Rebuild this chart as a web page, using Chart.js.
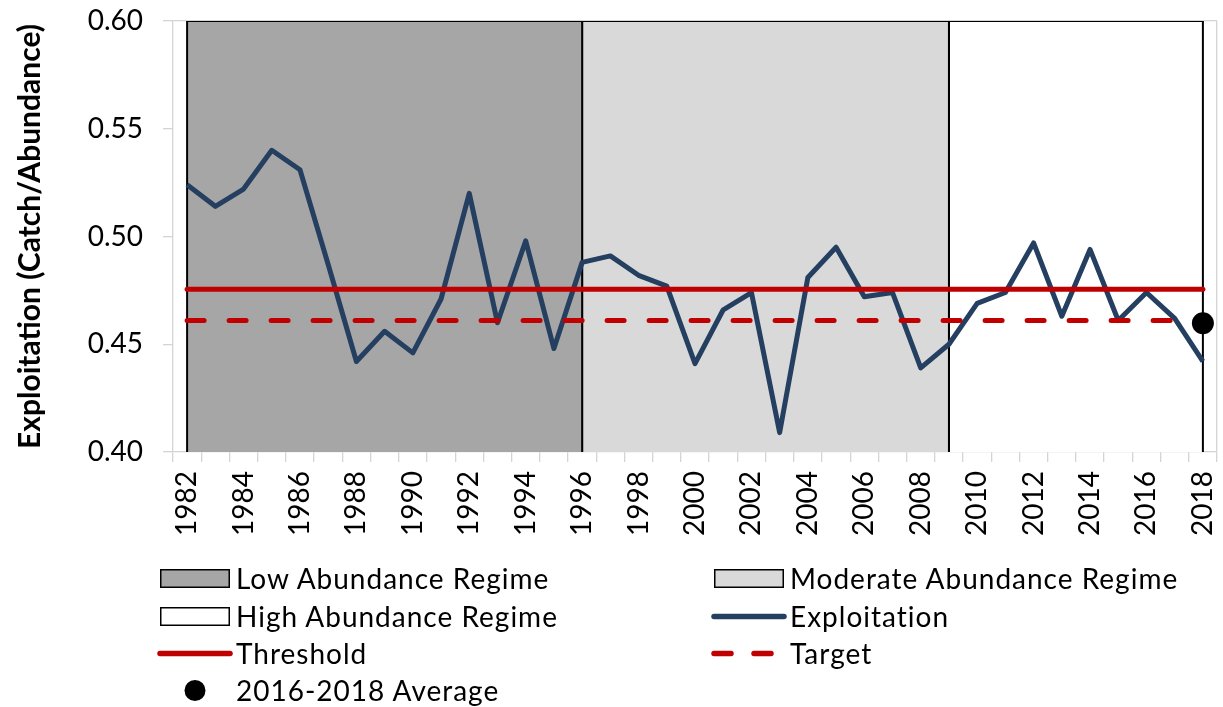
<!DOCTYPE html>
<html>
<head>
<meta charset="utf-8">
<script src="https://cdn.jsdelivr.net/npm/chart.js@4.4.1/dist/chart.umd.min.js"></script>
<style>
  body { margin: 0; background: #ffffff; }
  #wrap { position: relative; width: 1223px; height: 707px; }
  #legend { position: absolute; left: 0; top: 0; width: 1223px; height: 707px; pointer-events: none; }
  .item { position: absolute; height: 30px; display: flex; align-items: center; font-family: Lato, sans-serif; font-size: 28px; letter-spacing: 1px; color: #000; white-space: nowrap; }
  .item svg { margin-right: 3px; flex: none; }
</style>
</head>
<body>
<div id="wrap">
  <canvas id="chart" width="1223" height="707"></canvas>
  <div id="legend"></div>
</div>
<script>
// Years on the category axis
const years = ['1982','1983','1984','1985','1986','1987','1988','1989','1990','1991',
  '1992','1993','1994','1995','1996','1997','1998','1999','2000','2001','2002','2003',
  '2004','2005','2006','2007','2008','2009','2010','2011','2012','2013','2014','2015',
  '2016','2017','2018'];

// Exploitation rate (catch / abundance)
const exploitation = [0.524, 0.514, 0.522, 0.540, 0.531, 0.487, 0.442, 0.456, 0.446, 0.471,
  0.520, 0.460, 0.498, 0.448, 0.488, 0.491, 0.482, 0.477, 0.441, 0.466, 0.474, 0.409,
  0.481, 0.495, 0.472, 0.474, 0.439, 0.450, 0.469, 0.474, 0.497, 0.463, 0.494, 0.461,
  0.474, 0.462, 0.442];

// Reference points
const thresholdValue = 0.4755;
const targetValue = 0.461;
const averageYear = '2018';
const averageValue = 0.4597;

// Abundance regimes (start / end year)
const regimeNames = ['Low Abundance Regime', 'Moderate Abundance Regime', 'High Abundance Regime'];
const regimeStart = ['1982', '1996', '2009'];
const regimeEnd = ['1996', '2009', '2018'];
const regimeColors = ['#a6a6a6', '#d9d9d9', '#ffffff'];

const yMin = 0.40;
const yMax = 0.60;
const axisGray = '#d4d4d4';
const font = 'Lato';

function regimeDataset(i) {
  return {
    label: regimeNames[i],
    data: [
      { x: regimeStart[i], y: yMin },
      { x: regimeStart[i], y: yMax },
      { x: regimeEnd[i], y: yMax },
      { x: regimeEnd[i], y: yMin }
    ],
    backgroundColor: regimeColors[i],
    borderColor: '#000000',
    borderWidth: 2,
    fill: 'start',
    pointRadius: 0,
    tension: 0,
    order: 10,
    legendKind: 'box'
  };
}

const datasets = [
  regimeDataset(0),
  regimeDataset(1),
  regimeDataset(2),
  {
    label: 'Exploitation',
    data: exploitation,
    borderColor: '#243f60',
    borderWidth: 5,
    borderJoinStyle: 'round',
    pointRadius: 0,
    tension: 0,
    fill: false,
    order: 3,
    legendKind: 'line'
  },
  {
    label: 'Threshold',
    data: [{ x: years[0], y: thresholdValue }, { x: years[years.length - 1], y: thresholdValue }],
    borderColor: '#c00000',
    borderWidth: 5,
    borderCapStyle: 'round',
    pointRadius: 0,
    fill: false,
    order: 2,
    legendKind: 'line'
  },
  {
    label: 'Target',
    data: [{ x: years[0], y: targetValue }, { x: years[years.length - 1], y: targetValue }],
    borderColor: '#c00000',
    borderWidth: 5,
    borderDash: [17, 25],
    borderCapStyle: 'round',
    pointRadius: 0,
    fill: false,
    order: 1,
    legendKind: 'dash'
  },
  {
    label: '2016-2018 Average',
    data: [{ x: averageYear, y: averageValue }],
    showLine: false,
    pointRadius: 11,
    pointBackgroundColor: '#000000',
    pointBorderWidth: 0,
    borderColor: '#000000',
    order: 0,
    legendKind: 'dot'
  }
];

// Two column HTML legend built from the chart's datasets
const htmlLegend = {
  id: 'htmlLegend',
  afterUpdate(chart) {
    const box = document.getElementById('legend');
    box.innerHTML = '';
    const colX = [157, 711];
    const rowY = [578, 616, 653, 690];
    chart.data.datasets.forEach((ds, i) => {
      const col = i % 2, row = Math.floor(i / 2);
      let sym = '';
      if (ds.legendKind === 'box') {
        sym = `<rect x="3.75" y="3.75" width="68.5" height="17.5" fill="${ds.backgroundColor}" stroke="#000" stroke-width="1.5"/>`;
      } else if (ds.legendKind === 'line') {
        sym = `<line x1="3" y1="12.5" x2="73" y2="12.5" stroke="${ds.borderColor}" stroke-width="5.5" stroke-linecap="round"/>`;
      } else if (ds.legendKind === 'dash') {
        sym = `<line x1="3" y1="12.5" x2="73" y2="12.5" stroke="${ds.borderColor}" stroke-width="5.5" stroke-linecap="round" stroke-dasharray="17 23"/>`;
      } else {
        sym = `<circle cx="38" cy="12.5" r="10.5" fill="#000"/>`;
      }
      const el = document.createElement('div');
      el.className = 'item';
      el.style.left = colX[col] + 'px';
      el.style.top = (rowY[row] - 15) + 'px';
      el.innerHTML = `<svg width="76" height="25">${sym}</svg><span>${ds.label}</span>`;
      box.appendChild(el);
    });
  }
};

new Chart(document.getElementById('chart'), {
  type: 'line',
  data: { labels: years, datasets: datasets },
  options: {
    responsive: false,
    animation: false,
    events: [],
    layout: { autoPadding: false, padding: { left: 0, right: 6, top: 21, bottom: 165 } },
    plugins: {
      legend: { display: false },
      tooltip: { enabled: false }
    },
    scales: {
      x: {
        type: 'category',
        offset: true,
        grid: {
          offset: true,
          drawOnChartArea: true,
          color: (ctx) => (ctx.index === undefined ? axisGray : 'rgba(0,0,0,0)'),
          tickColor: axisGray,
          tickLength: 10,
          lineWidth: 1.3
        },
        border: { color: axisGray, width: 1.3 },
        ticks: {
          autoSkip: false,
          maxRotation: 90,
          minRotation: 90,
          padding: 9,
          color: '#000',
          font: { family: font, size: 28 },
          callback: function (v) {
            const lab = this.getLabelForValue(v);
            return Number(lab) % 2 === 0 ? lab : '';
          }
        },
        afterFit: (s) => { s.height = 90; s.paddingLeft = 0; s.paddingRight = 0; }
      },
      y: {
        min: yMin,
        max: yMax,
        grid: {
          drawOnChartArea: true,
          color: (ctx) => (ctx.tick && Math.abs(ctx.tick.value - yMax) < 1e-9 ? axisGray : 'rgba(0,0,0,0)'),
          tickColor: axisGray,
          tickLength: 10,
          lineWidth: 1.3
        },
        border: { color: axisGray, width: 1.3 },
        ticks: {
          stepSize: 0.05,
          padding: 20,
          color: '#000',
          font: { family: font, size: 28 },
          callback: (v) => v.toFixed(2)
        },
        title: {
          display: true,
          text: 'Exploitation (Catch/Abundance)',
          color: '#000',
          font: { family: font, size: 30, weight: 'bold' },
          padding: { top: 12, bottom: 0 }
        },
        afterFit: (s) => { s.width = 173; s.paddingTop = 0; s.paddingBottom = 0; }
      }
    }
  },
  plugins: [htmlLegend]
});
</script>
</body>
</html>
